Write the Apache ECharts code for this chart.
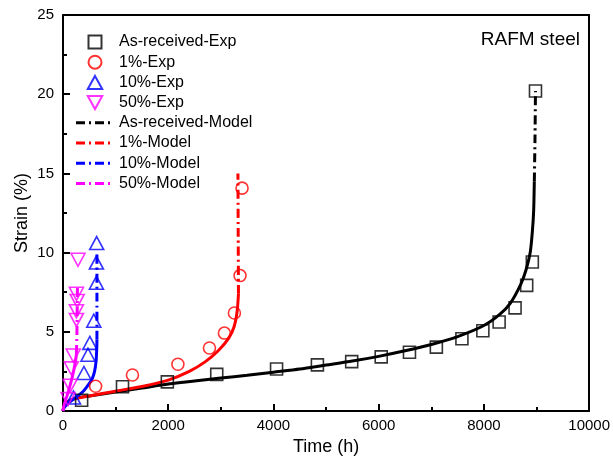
<!DOCTYPE html>
<html><head><meta charset="utf-8">
<script src="https://cdn.jsdelivr.net/npm/echarts@6/dist/echarts.min.js"></script>
<style>html,body{margin:0;padding:0;background:#fff}#c{width:613px;height:462px}</style>
</head><body><div id="c"></div>
<script>
// ---- data ----
const asReceivedExp = [[354,0.68],[1131,1.53],[1983,1.84],[2922,2.31],[4059,2.65],[4835,2.91],[5487,3.12],[6048,3.42],[6585,3.71],[7096,4.03],[7582,4.56],[7980,5.07],[8289,5.62],[8592,6.51],[8813,7.93],[8920,9.41],[8980,20.2]];
const onePctExp = [[620,1.56],[1320,2.27],[2184,2.95],[2784,3.98],[3068,4.92],[3258,6.19],[3365,8.55],[3403,14.07]];
const tenPctExp = [[200,0.85],[398,2.4],[475,3.55],[510,4.3],[585,5.7],[635,8.1],[635,9.37],[640,10.6]];
const fiftyPctExp = [[95,0.75],[135,1.6],[157,2.69],[195,3.5],[255,5.75],[255,6.3],[270,6.95],[255,7.4],[285,9.55]];

const asReceivedModelSolid = [[0,0],[20,0.3],[60,0.5],[150,0.7],[300,0.85],[500,0.95],[1000,1.2],[1500,1.45],[2000,1.7],[2500,1.9],[3000,2.08],[3500,2.25],[4000,2.45],[4500,2.65],[5000,2.9],[5500,3.15],[6000,3.45],[6500,3.8],[7000,4.2],[7500,4.7],[8000,5.4],[8300,6.1],[8500,6.8],[8700,8.0],[8800,8.9],[8880,10.0],[8920,11.3],[8945,12.6],[8958,14.5]];
const asReceivedModelDash = [[8958,14.5],[8970,17],[8980,20.2]];
const onePctModelSolid = [[0,0],[20,0.3],[80,0.55],[200,0.75],[500,0.95],[1000,1.25],[1500,1.55],[2000,1.95],[2400,2.5],[2700,3.1],[2950,3.8],[3150,4.6],[3250,5.3],[3310,6.3],[3335,7.4]];
const onePctModelDash = [[3335,7.4],[3330,11],[3325,15.0]];
const tenPctModelSolid = [[0,0],[20,0.2],[100,0.5],[200,0.75],[300,1.0],[400,1.3],[480,1.65],[550,2.0],[600,2.5],[630,3.2],[642,4.0],[645,4.5]];
const tenPctModelDash = [[645,4.5],[645,7],[645,10.0]];
const fiftyPctModelSolid = [[0,0],[15,0.3],[50,0.7],[100,1.2],[150,1.8],[200,2.5],[240,3.2],[255,3.6]];
const fiftyPctModelDash = [[255,3.6],[265,5],[270,6.5],[275,8.0]];

const legendNames = ['As-received-Exp','1%-Exp','10%-Exp','50%-Exp','As-received-Model','1%-Model','10%-Model','50%-Model'];
const xMin = 0, xMax = 10000, xStep = 2000;
const yMin = 0, yMax = 25, yStep = 5;
const titleText = 'RAFM steel';
const xName = 'Time (h)', yName = 'Strain (%)';

// ---- chart ----
const FONT = '"Liberation Sans", Arial, sans-serif';
const DASH = [9,4,2,4];
const SQ = 'path://M0,0 L10,0 L10,10 L0,10 Z';
const UPTRI = 'path://M5,0 L10,9 L0,9 Z';
const DOWNTRI = 'path://M0,0 L10,0 L5,9 Z';
const DASHICON = 'path://M0,0h9v3h-9z M13,0h2v3h-2z M19,0h9v3h-9z M32,0h2v3h-2z M38,0h0.01v3h-0.01z';

function expSeries(name, data, color, symbol, size) {
  return {
    name, type: 'scatter', data, symbol, symbolSize: size,
    itemStyle: { color: 'rgba(0,0,0,0)', borderColor: color, borderWidth: 1.6 },
    z: 5
  };
}
function modelSeries(name, data, color, dashed) {
  return {
    name, type: 'line', data, showSymbol: false, symbol: 'none', smooth: 0.25,
    lineStyle: { color, width: 3, type: dashed ? DASH : 'solid' },
    itemStyle: { color }, z: 3
  };
}

const legendIcons = {
  'As-received-Exp': SQ, '1%-Exp': 'circle', '10%-Exp': UPTRI, '50%-Exp': DOWNTRI,
  'As-received-Model': DASHICON, '1%-Model': DASHICON, '10%-Model': DASHICON, '50%-Model': DASHICON
};
const modelColors = { 'As-received-Model': '#000000', '1%-Model': '#ff0000', '10%-Model': '#0000ff', '50%-Model': '#ff00ff' };

const chart = echarts.init(document.getElementById('c'), null, { renderer: 'canvas' });
chart.setOption({
  animation: false,
  backgroundColor: '#fff',
  textStyle: { fontFamily: FONT },
  title: {
    text: titleText, right: 33, top: 30, padding: 0,
    textStyle: { fontFamily: FONT, fontSize: 19, fontWeight: 'normal', color: '#000' }
  },
  grid: { left: 63, right: 22, top: 15, bottom: 51 },
  legend: {
    data: legendNames.map(n => {
      const d = { name: n, icon: legendIcons[n] };
      if (modelColors[n]) d.itemStyle = { color: modelColors[n], borderWidth: 0 };
      return d;
    }),
    orient: 'vertical', left: 76, top: 34, padding: 0,
    itemWidth: 38, itemHeight: 13, itemGap: 4.2,
    textStyle: { fontFamily: FONT, fontSize: 16, color: '#000' }
  },
  xAxis: [{
    type: 'value', min: xMin, max: xMax, interval: xStep,
    name: xName, nameLocation: 'middle', nameGap: 26,
    nameTextStyle: { fontFamily: FONT, fontSize: 18, color: '#000' },
    axisLine: { show: true, onZero: false, lineStyle: { color: '#000', width: 2 } },
    axisTick: { show: true, inside: true, length: 7, lineStyle: { color: '#000', width: 2 } },
    minorTick: { show: true, splitNumber: 2, length: 4, lineStyle: { color: '#000', width: 2 } },
    axisLabel: { fontFamily: FONT, fontSize: 15, color: '#000', margin: 7, formatter: v => String(v) },
    splitLine: { show: false }
  }, {
    type: 'value', position: 'top', min: xMin, max: xMax,
    axisLine: { show: true, onZero: false, lineStyle: { color: '#000', width: 2 } },
    axisTick: { show: false }, axisLabel: { show: false }, splitLine: { show: false }
  }],
  yAxis: [{
    type: 'value', min: yMin, max: yMax, interval: yStep,
    name: yName, nameLocation: 'middle', nameGap: 32, nameMoveOverlap: false,
    nameTextStyle: { fontFamily: FONT, fontSize: 18, color: '#000' },
    axisLine: { show: true, onZero: false, lineStyle: { color: '#000', width: 2 } },
    axisTick: { show: true, inside: true, length: 7, lineStyle: { color: '#000', width: 2 } },
    minorTick: { show: true, splitNumber: 2, length: 4, lineStyle: { color: '#000', width: 2 } },
    axisLabel: { fontFamily: FONT, fontSize: 15, color: '#000', margin: 9, formatter: v => String(v) },
    splitLine: { show: false }
  }, {
    type: 'value', position: 'right', min: yMin, max: yMax,
    axisLine: { show: true, onZero: false, lineStyle: { color: '#000', width: 2 } },
    axisTick: { show: false }, axisLabel: { show: false }, splitLine: { show: false }
  }],
  series: [
    modelSeries('As-received-Model-solid', asReceivedModelSolid, '#000000', false),
    modelSeries('As-received-Model', asReceivedModelDash, '#000000', true),
    modelSeries('1%-Model-solid', onePctModelSolid, '#ff0000', false),
    modelSeries('1%-Model', onePctModelDash, '#ff0000', true),
    modelSeries('10%-Model-solid', tenPctModelSolid, '#0000ff', false),
    modelSeries('10%-Model', tenPctModelDash, '#0000ff', true),
    modelSeries('50%-Model-solid', fiftyPctModelSolid, '#ff00ff', false),
    modelSeries('50%-Model', fiftyPctModelDash, '#ff00ff', true),
    expSeries('As-received-Exp', asReceivedExp, '#000000', 'rect', 12),
    expSeries('1%-Exp', onePctExp, '#ff0000', 'circle', 12),
    expSeries('10%-Exp', tenPctExp, '#0000ff', UPTRI, [14,13]),
    expSeries('50%-Exp', fiftyPctExp, '#ff00ff', DOWNTRI, [14,13])
  ]
});
</script></body></html>
